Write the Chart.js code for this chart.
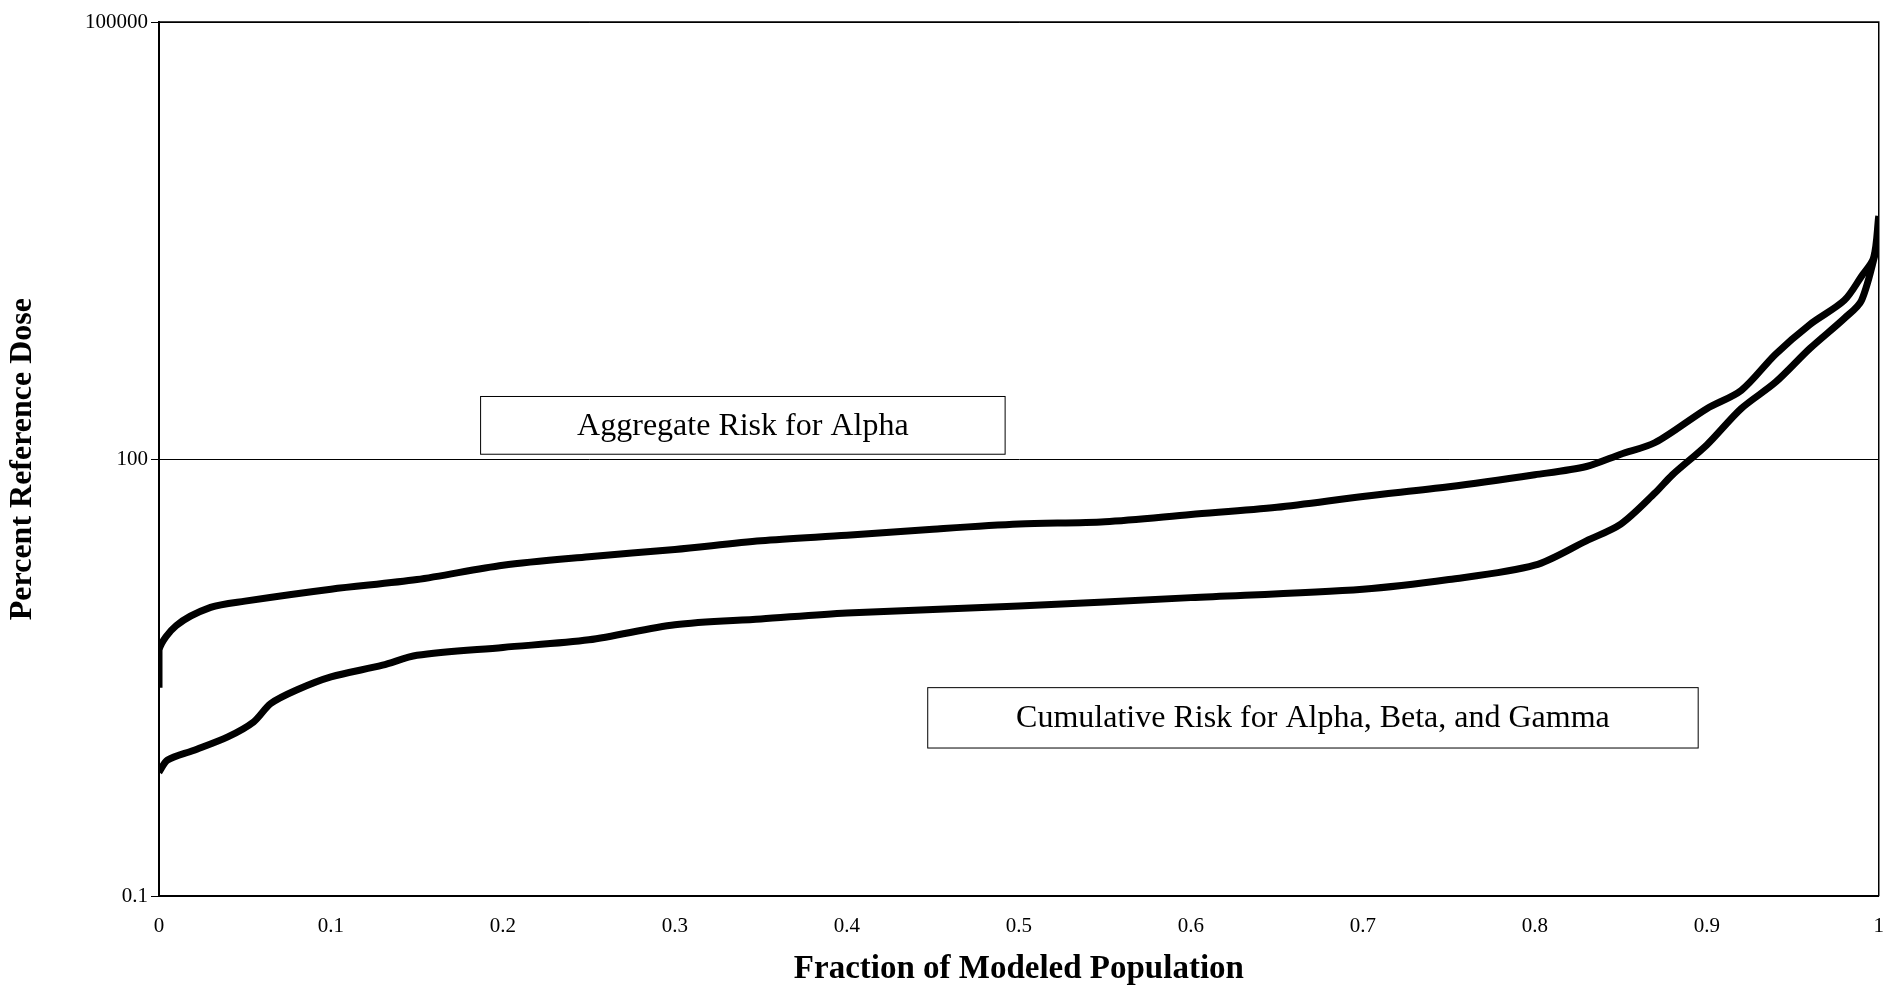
<!DOCTYPE html>
<html>
<head>
<meta charset="utf-8">
<script src="https://cdn.jsdelivr.net/npm/chart.js@4"></script>
<style>
  html, body { margin: 0; padding: 0; background: #fff; overflow: hidden; }
  #wrap { width: 1894px; height: 993px; }
</style>
</head>
<body>
<div id="wrap"><canvas id="risk-chart"></canvas></div>
<script>
const aggregateX = [0, 0, 0.01, 0.03, 0.05, 0.1, 0.15, 0.2, 0.25, 0.3, 0.35, 0.4, 0.45, 0.5, 0.55, 0.6, 0.65, 0.7, 0.75, 0.8, 0.83, 0.85, 0.87, 0.9, 0.92, 0.94, 0.96, 0.98, 0.99, 0.997, 1.0];
const aggregateY = [2.7, 4.9, 7.2, 9.6, 10.6, 12.8, 14.9, 18.7, 21.4, 24, 27.5, 30, 33, 35.8, 37.2, 41.7, 46.7, 55.4, 64.5, 78, 89, 108, 130, 222, 296, 525, 840, 1230, 1800, 2400, 4660];

const cumulativeX = [0, 0.005, 0.02, 0.04, 0.055, 0.065, 0.08, 0.1, 0.13, 0.15, 0.2, 0.25, 0.3, 0.35, 0.4, 0.5, 0.6, 0.7, 0.75, 0.8, 0.83, 0.85, 0.87, 0.88, 0.9, 0.92, 0.94, 0.96, 0.98, 0.99, 1.0];
const cumulativeY = [0.71, 0.86, 1.0, 1.24, 1.57, 2.1, 2.6, 3.2, 3.85, 4.5, 5.1, 5.75, 7.3, 8.0, 8.8, 9.8, 11.2, 12.8, 14.9, 18.7, 27.5, 35.8, 58.7, 78, 125, 222, 337, 575, 925, 1230, 3200];

const xTicks = [0, 0.1, 0.2, 0.3, 0.4, 0.5, 0.6, 0.7, 0.8, 0.9, 1];
const yTicks = [0.1, 100, 100000];

const labelBoxes = [
  { text: 'Aggregate Risk for Alpha', x0: 0.187, x1: 0.492, y0: 269, y1: 108 },
  { text: 'Cumulative Risk for Alpha, Beta, and Gamma', x0: 0.447, x1: 0.895, y0: 2.7, y1: 1.04 }
];

const boxPlugin = {
  id: 'labelBoxes',
  afterDatasetsDraw(chart) {
    const { ctx, scales: { x, y } } = chart;
    ctx.save();
    labelBoxes.forEach(b => {
      const l = x.getPixelForValue(b.x0), r = x.getPixelForValue(b.x1);
      const t = y.getPixelForValue(b.y0), bt = y.getPixelForValue(b.y1);
      ctx.fillStyle = '#fff';
      ctx.fillRect(l, t, r - l, bt - t);
      ctx.strokeStyle = '#000';
      ctx.lineWidth = 1;
      ctx.strokeRect(l, t, r - l, bt - t);
      ctx.fillStyle = '#000';
      ctx.font = '32px "Liberation Serif"';
      ctx.textAlign = 'center';
      ctx.textBaseline = 'middle';
      ctx.fillText(b.text, (l + r) / 2, (t + bt) / 2 + 1);
    });
    ctx.restore();
  }
};

const ctx = document.getElementById('risk-chart').getContext('2d');
new Chart(ctx, {
  type: 'line',
  data: {
    datasets: [
      {
        label: 'Aggregate Risk for Alpha',
        data: aggregateX.map((v, i) => ({ x: v, y: aggregateY[i] })),
        borderColor: '#000', borderWidth: 7, pointRadius: 0, tension: 0.3
      },
      {
        label: 'Cumulative Risk for Alpha, Beta, and Gamma',
        data: cumulativeX.map((v, i) => ({ x: v, y: cumulativeY[i] })),
        borderColor: '#000', borderWidth: 7, pointRadius: 0, tension: 0.3
      }
    ]
  },
  options: {
    responsive: true,
    maintainAspectRatio: false,
    animation: false,
    layout: { padding: { top: 22, right: 1, left: 0, bottom: 0 } },
    scales: {
      x: {
        type: 'linear', min: 0, max: 1,
        afterBuildTicks: axis => { axis.ticks = xTicks.map(v => ({ value: v })); },
        grid: { display: false, drawTicks: true },
        border: { color: '#000', width: 2 },
        ticks: {
          color: '#000', font: { family: 'Liberation Serif', size: 21 }, padding: 10,
          maxRotation: 0, callback: v => String(v)
        },
        title: {
          display: true, text: 'Fraction of Modeled Population', color: '#000',
          font: { family: 'Liberation Serif', size: 33, weight: 'bold' }, padding: { top: 0, bottom: 4 }
        }
      },
      y: {
        type: 'logarithmic', min: 0.1, max: 100000,
        afterBuildTicks: axis => { axis.ticks = yTicks.map(v => ({ value: v })); },
        afterFit: axis => { axis.width = 159; },
        grid: { color: '#000', lineWidth: 1, drawTicks: true, tickLength: 8 },
        border: { color: '#000', width: 2 },
        ticks: {
          color: '#000', font: { family: 'Liberation Serif', size: 21 },
          callback: v => String(v)
        },
        title: {
          display: true, text: 'Percent Reference Dose', color: '#000',
          font: { family: 'Liberation Serif', size: 32, weight: 'bold' }
        }
      }
    },
    plugins: { legend: { display: false }, tooltip: { enabled: false } }
  },
  plugins: [boxPlugin, {
    id: 'frame',
    afterDraw(chart) {
      const { ctx, chartArea: a } = chart;
      ctx.save();
      ctx.strokeStyle = '#000'; ctx.lineWidth = 1.5;
      ctx.beginPath();
      ctx.moveTo(a.left, a.top); ctx.lineTo(a.right, a.top); ctx.lineTo(a.right, a.bottom);
      ctx.stroke();
      ctx.restore();
    }
  }]
});
</script>
</body>
</html>
